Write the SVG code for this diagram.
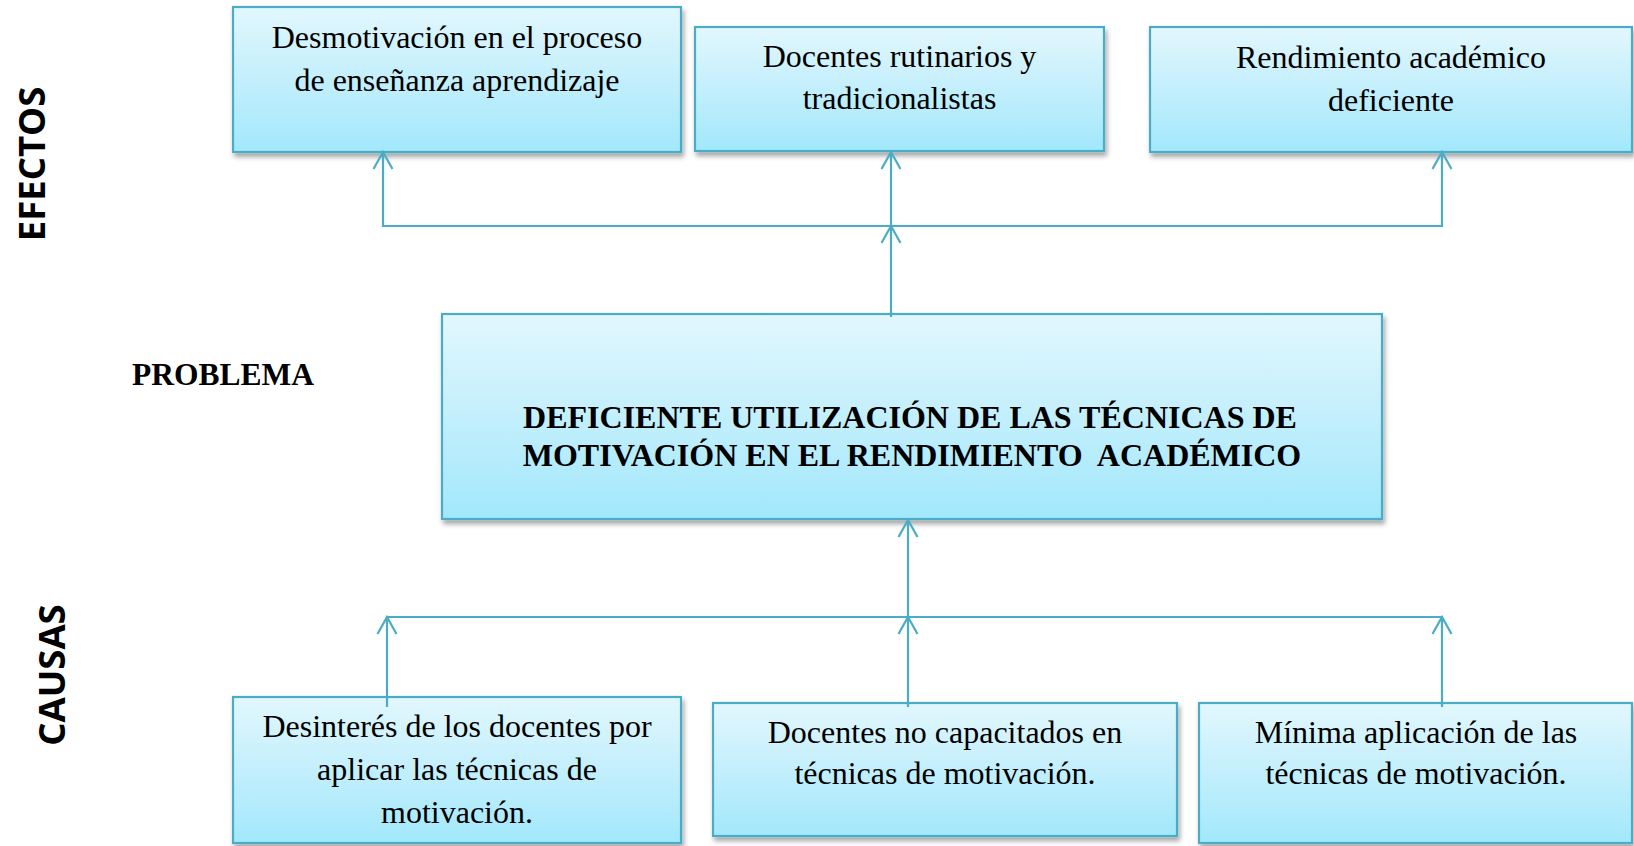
<svg xmlns="http://www.w3.org/2000/svg" width="1634" height="846" viewBox="0 0 1634 846">
<style>
.box{fill:url(#g);stroke:#4bacc6;stroke-width:2.2;filter:url(#sh)}
.t{font-family:"Liberation Serif","Times New Roman",serif;font-size:32px;fill:#000;text-anchor:middle}
.tb{font-family:"Liberation Serif","Times New Roman",serif;font-size:32px;font-weight:bold;fill:#000;text-anchor:middle}
.side{font-family:"Open Sans","Liberation Sans",sans-serif;font-size:36.5px;font-weight:bold;fill:#000;text-anchor:middle}
.c{fill:none;stroke:#4bacc6;stroke-width:2.2}
</style>
<defs>
<linearGradient id="g" x1="0" y1="0" x2="0" y2="1">
<stop offset="0" stop-color="#e2f7fd"/>
<stop offset="0.5" stop-color="#c3effc"/>
<stop offset="1" stop-color="#a2e8fc"/>
</linearGradient>
<filter id="sh" x="-5%" y="-5%" width="115%" height="125%">
<feDropShadow dx="2" dy="4" stdDeviation="2.5" flood-color="#000" flood-opacity="0.35"/>
</filter>
<marker id="up" markerUnits="userSpaceOnUse" markerWidth="24" markerHeight="24" viewBox="-12 -2 24 24" refX="0" refY="0" orient="0">
<path d="M-9.5,17 L0,0 L9.5,17" fill="none" stroke="#4bacc6" stroke-width="2.2"/>
</marker>
</defs>
<rect width="1634" height="846" fill="#fff"/>

<g id="label-efectos"><text class="side" transform="translate(45,164) rotate(-90)">EFECTOS</text></g>
<g id="label-problema"><text x="132" y="385" style="font-family:'Liberation Serif','Times New Roman',serif;font-size:31.5px;font-weight:bold">PROBLEMA</text></g>
<g id="label-causas"><text class="side" transform="translate(64.5,675) rotate(-90)">CAUSAS</text></g>

<g id="effect1"><rect class="box" x="233" y="7" width="448" height="145"/>
<text class="t" x="457" y="48">Desmotivación en el proceso</text>
<text class="t" x="457" y="90.5">de enseñanza aprendizaje</text></g>

<g id="effect2"><rect class="box" x="695" y="27" width="409" height="124"/>
<text class="t" x="899.5" y="67">Docentes rutinarios y</text>
<text class="t" x="899.5" y="109">tradicionalistas</text></g>

<g id="effect3"><rect class="box" x="1150" y="27" width="482" height="125"/>
<text class="t" x="1391" y="68">Rendimiento académico</text>
<text class="t" x="1391" y="110.5">deficiente</text></g>

<g id="problem"><rect class="box" x="442" y="314" width="940" height="205"/>
<text class="tb" x="910" y="428">DEFICIENTE UTILIZACIÓN DE LAS TÉCNICAS DE</text>
<text class="tb" x="912" y="466" xml:space="preserve">MOTIVACIÓN EN EL RENDIMIENTO  ACADÉMICO</text></g>

<g id="cause1"><rect class="box" x="233" y="697" width="448" height="146"/>
<text class="t" x="457" y="737">Desinterés de los docentes por</text>
<text class="t" x="457" y="780">aplicar las técnicas de</text>
<text class="t" x="457" y="823">motivación.</text></g>

<g id="cause2"><rect class="box" x="713" y="703" width="464" height="133"/>
<text class="t" x="945" y="743">Docentes no capacitados en</text>
<text class="t" x="945" y="784">técnicas de motivación.</text></g>

<g id="cause3"><rect class="box" x="1199" y="703" width="433" height="140"/>
<text class="t" x="1416" y="743">Mínima aplicación de las</text>
<text class="t" x="1416" y="784">técnicas de motivación.</text></g>

<g id="connectors">
<path class="c" d="M891,317 V226" marker-end="url(#up)"/>
<path class="c" d="M891,226 V152" marker-end="url(#up)"/>
<path class="c" d="M891,226 H383 V152" marker-end="url(#up)"/>
<path class="c" d="M891,226 H1442 V152" marker-end="url(#up)"/>
<path class="c" d="M387,617 H1442"/>
<path class="c" d="M387,707 V617" marker-end="url(#up)"/>
<path class="c" d="M908,707 V617" marker-end="url(#up)"/>
<path class="c" d="M1442,707 V617" marker-end="url(#up)"/>
<path class="c" d="M908,617 V520" marker-end="url(#up)"/>
</g>
</svg>
